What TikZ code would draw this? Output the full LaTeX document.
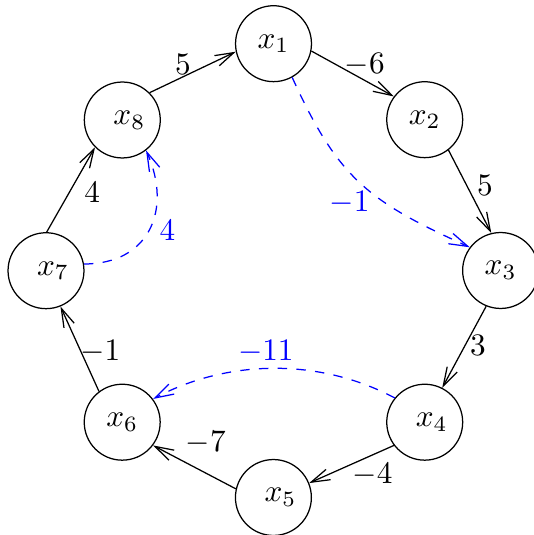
\documentclass[tikz,border=0pt]{standalone}
\usetikzlibrary{arrows.meta}
\begin{document}
\begin{tikzpicture}[x=0.32pt,y=0.32pt,
  vertex/.style={draw,circle,minimum size=24.3pt,inner sep=0pt,line width=0.4pt},
  edge/.style={draw,line width=0.4pt,-{Straight Barb[length=6pt,width=3.6pt]}},
  bedge/.style={edge,blue,dashed},
  elabel/.style={inner sep=0pt},
  blabel/.style={inner sep=0pt,text=blue}]
\useasboundingbox (0,0) rectangle (533,-535);
% vertices
\node[vertex] (x1) at (273.5,-43.7) {$x_1$};
\node[vertex] (x2) at (424.7,-119.7) {$x_2$};
\node[vertex] (x3) at (500.6,-270.5) {$x_3$};
\node[vertex] (x4) at (424.7,-422.2) {\hspace*{4.5pt}$x_4$};
\node[vertex] (x5) at (273.4,-497.5) {\hspace*{4.5pt}$x_5$};
\node[vertex] (x6) at (122.2,-422.2) {$x_6$};
\node[vertex] (x7) at (46,-270.7) {\hspace*{4.5pt}$x_7$};
\node[vertex] (x8) at (122.3,-120) {\hspace*{4.5pt}$x_8$};
% black edges
\draw[edge] (x8.45.6) -- (x1.192.5);
\draw[edge] (x1.-11.9) -- (x2.143.5);
\draw[edge] (x2.-52) -- (x3.104);
\draw[edge] (x3.-112) -- (x4.63.9);
\draw[edge] (x4.217) -- (x5.22.7);
\draw[edge] (x5.167.4) -- (x6.-37.9);
\draw[edge] (x6.127) -- (x7.-68);
\draw[edge] (x7.89) -- (x8.225.5);
% blue dashed edges
\draw[bedge] (x1.-61) .. controls +(45.8,-101.1) and +(-101.1,45.8) .. (x3.143.5);
\draw[bedge] (x7.10.7) .. controls +(65,0) and +(26.5,-59.4) .. (x8.-52.3);
\draw[bedge] (x4.141.6) .. controls +(-75,40) and +(75,40) .. (x6.37.2);
% labels
\node[elabel] (l81) at (183,-64.2) {$5$};
\node[elabel] (l12) at (364.7,-65) {$-6$};
\node[elabel] (l23) at (485,-185) {$5$};
\node[elabel] (l34) at (477.9,-345) {$3$};
\node[elabel] (l45) at (372.5,-474.5) {$-4$};
\node[elabel] (l56) at (205.8,-442.5) {$-7$};
\node[elabel] (l67) at (100.3,-351.7) {$-1$};
\node[elabel] (l78) at (92.2,-192.5) {$4$};
\node[blabel] (b13) at (349.5,-202.5) {$-1$};
\node[blabel] (b78) at (167.5,-230.5) {$4$};
\node[blabel] (b46) at (265.8,-351.7) {$-11$};
\end{tikzpicture}
\end{document}
